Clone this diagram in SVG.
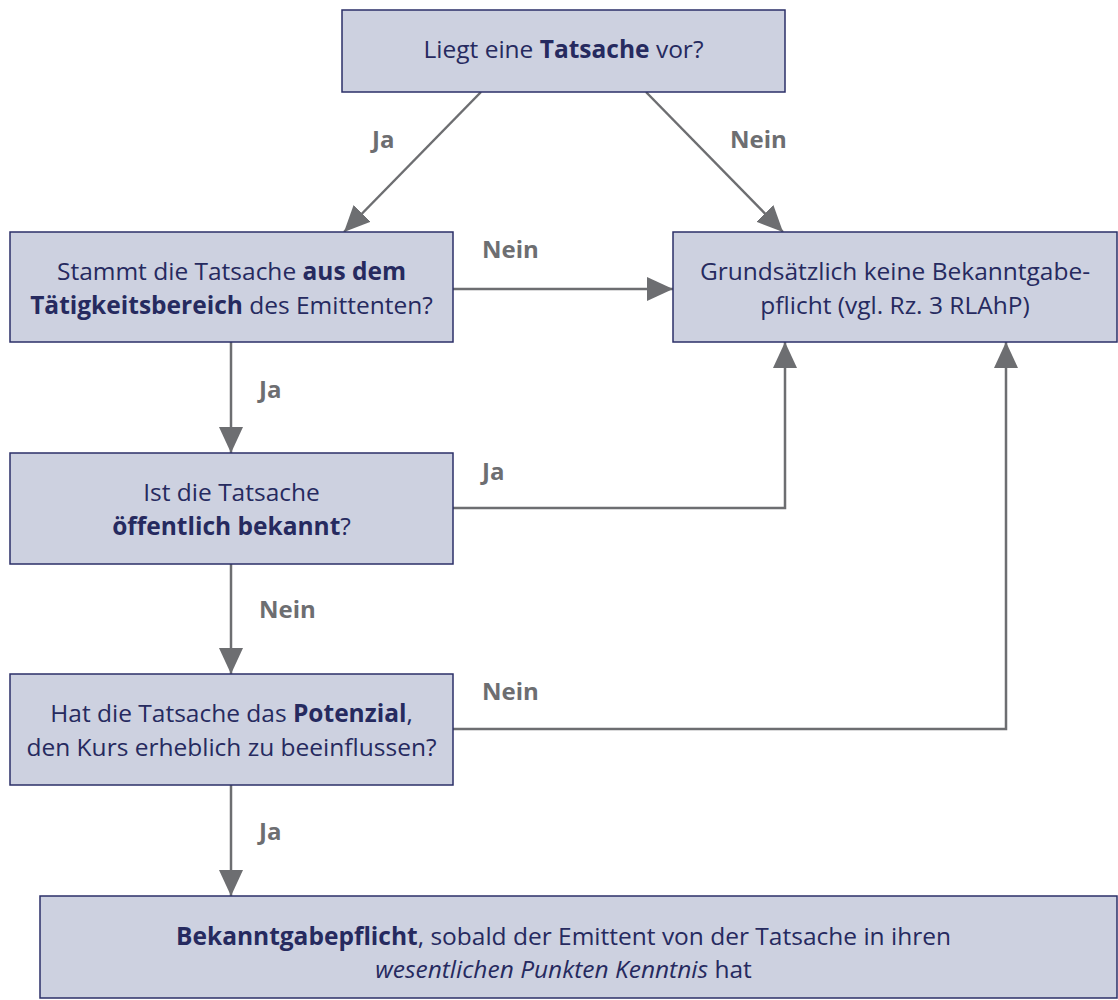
<svg xmlns="http://www.w3.org/2000/svg" width="1118" height="1000" viewBox="0 0 1118 1000">
<style>
.box{fill:#cdd1e0;stroke:#2b2f68;stroke-width:1.5}
.t{font-family:"Open Sans","Noto Sans",sans-serif;font-size:24.5px;fill:#262a5f;text-anchor:middle}
.b{font-weight:bold}
.i{font-style:italic}
.lbl{font-family:"Open Sans","Noto Sans",sans-serif;font-size:24px;font-weight:bold;fill:#6d6e71}
.c{fill:none;stroke:#6d6e71;stroke-width:2.5}
</style>
<defs>
<marker id="ah" markerUnits="userSpaceOnUse" markerWidth="26" markerHeight="24" refX="26" refY="12" orient="auto" viewBox="0 0 26 24">
<path d="M0,0 L26,12 L0,24 z" fill="#6d6e71"/>
</marker>
</defs>
<g id="connectors">
<path class="c" d="M481,92 L344,232" marker-end="url(#ah)"/>
<path class="c" d="M646,92 L783,232" marker-end="url(#ah)"/>
<path class="c" d="M453,289 L673,289" marker-end="url(#ah)"/>
<path class="c" d="M231,342 L231,453" marker-end="url(#ah)"/>
<path class="c" d="M453,508 L785,508 L785,342" marker-end="url(#ah)"/>
<path class="c" d="M231,564 L231,674" marker-end="url(#ah)"/>
<path class="c" d="M453,729 L1006,729 L1006,342" marker-end="url(#ah)"/>
<path class="c" d="M231,785 L231,896" marker-end="url(#ah)"/>
<text class="lbl" x="372" y="148">Ja</text>
<text class="lbl" x="730" y="148">Nein</text>
<text class="lbl" x="482" y="258">Nein</text>
<text class="lbl" x="259" y="398">Ja</text>
<text class="lbl" x="482" y="480">Ja</text>
<text class="lbl" x="259" y="618">Nein</text>
<text class="lbl" x="482" y="700">Nein</text>
<text class="lbl" x="259" y="840">Ja</text>
</g>
<g id="n1">
<rect class="box" x="342" y="10" width="443" height="82"/>
<text class="t" x="563.5" y="58">Liegt eine <tspan class="b">Tatsache</tspan> vor?</text>
</g>
<g id="n2">
<rect class="box" x="10" y="232" width="443" height="110"/>
<text class="t" x="231.5" y="280">Stammt die Tatsache <tspan class="b">aus dem</tspan></text>
<text class="t" x="231.5" y="314"><tspan class="b">Tätigkeitsbereich</tspan> des Emittenten?</text>
</g>
<g id="n3">
<rect class="box" x="673" y="232" width="444" height="110"/>
<text class="t" x="895" y="280">Grundsätzlich keine Bekanntgabe-</text>
<text class="t" x="895" y="314">pflicht (vgl. Rz. 3 RLAhP)</text>
</g>
<g id="n4">
<rect class="box" x="10" y="453" width="443" height="111"/>
<text class="t" x="231.5" y="501">Ist die Tatsache</text>
<text class="t" x="231.5" y="535"><tspan class="b">öffentlich bekannt</tspan>?</text>
</g>
<g id="n5">
<rect class="box" x="10" y="674" width="443" height="111"/>
<text class="t" x="231.5" y="722">Hat die Tatsache das <tspan class="b">Potenzial</tspan>,</text>
<text class="t" x="231.5" y="756">den Kurs erheblich zu beeinflussen?</text>
</g>
<g id="n6">
<rect class="box" x="40" y="896" width="1077" height="102"/>
<text class="t" x="563.5" y="945"><tspan class="b">Bekanntgabepflicht</tspan>, sobald der Emittent von der Tatsache in ihren</text>
<text class="t" x="563.5" y="978"><tspan class="i">wesentlichen Punkten Kenntnis</tspan> hat</text>
</g>
</svg>
